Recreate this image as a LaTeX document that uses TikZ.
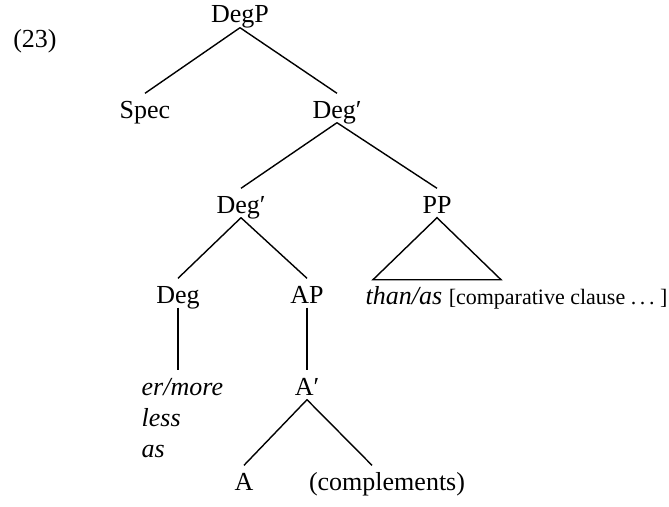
\documentclass[tikz,border=0pt]{standalone}
\usepackage{fontspec}
\setmainfont{Liberation Serif}

\begin{document}
\begin{tikzpicture}[x = 1pt, y = -1pt, line width = 1.4pt,
  cat/.style = {anchor = base, inner sep = 0pt, text height = 24pt, text depth = 4pt,
    font = \fontsize{26}{31}\selectfont},
  word/.style = {cat, anchor = base west, font = \fontsize{26}{31}\selectfont\itshape}]
  \useasboundingbox (0, 0) rectangle (669, 506);
  \node[cat] at (35, 47) (ex) {(23)};
  \node[cat] at (240, 23) (DegP) {DegP};
  \node[cat] at (145, 118) (Spec) {Spec};
  \node[cat] at (337, 118) (Degbar) {Deg′};
  \node[cat] at (241, 213) (Degbarlow) {Deg′};
  \node[cat] at (437, 213) (PP) {PP};
  \node[cat] at (178, 303) (Deg) {Deg};
  \node[cat] at (307, 303) (AP) {AP};
  \node[word] at (141, 395) (ermore) {er/more};
  \node[word] at (141, 426) (less) {less};
  \node[word] at (141, 457) (as) {as};
  \node[cat] at (307, 395) (Abar) {A′};
  \node[cat] at (244, 490) (A) {A};
  \node[cat] at (387, 490) (compl) {(complements)};
  \node[word] at (365, 304) (thanas) {than/as {\fontsize{22}{26}\upshape[comparative clause .\,.\,.\ ]}};
  \draw (DegP.south) -- (Spec.north);
  \draw (DegP.south) -- (Degbar.north);
  \draw (Degbar.south) -- (Degbarlow.north);
  \draw (Degbar.south) -- (PP.north);
  \draw (PP.south) -- ++(-64, 62) -- ++(128, 0) -- cycle;
  \draw (Degbarlow.south) -- (Deg.north);
  \draw (Degbarlow.south) -- (AP.north);
  \draw (Deg.south) -- (Deg.south |- ermore.north);
  \draw (AP.south) -- (Abar.north);
  \draw (Abar.south) -- (A.north);
  \draw (Abar.south) -- ([xshift = -15pt]compl.north);
\end{tikzpicture}
\end{document}
